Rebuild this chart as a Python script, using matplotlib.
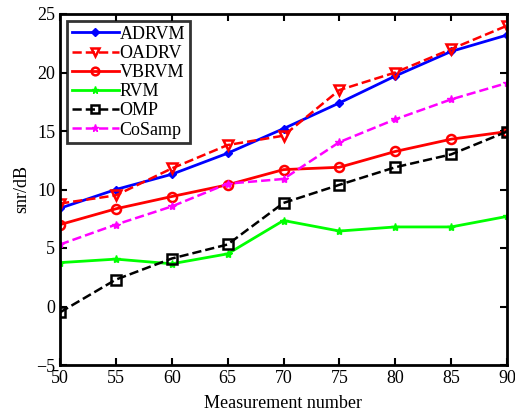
import matplotlib
matplotlib.use("Agg")
import matplotlib.pyplot as plt

plt.rcParams["font.family"] = ["Liberation Serif", "DejaVu Serif"]

measurements = [50, 55, 60, 65, 70, 75, 80, 85, 90]
adrvm = [8.4, 10.0, 11.3, 13.1, 15.2, 17.4, 19.7, 21.8, 23.2]
oadrv = [8.8, 9.5, 11.8, 13.8, 14.6, 18.5, 20.0, 22.0, 24.0]
vbrvm = [7.0, 8.35, 9.4, 10.4, 11.7, 11.9, 13.25, 14.3, 14.95]
rvm = [3.75, 4.05, 3.65, 4.5, 7.35, 6.45, 6.8, 6.8, 7.7]
omp = [-0.5, 2.3, 4.1, 5.3, 8.85, 10.4, 11.9, 13.0, 14.95]
cosamp = [5.3, 7.0, 8.55, 10.5, 10.9, 14.05, 16.0, 17.7, 19.1]

fig = plt.figure(figsize=(5.15, 4.18), dpi=100)
ax = fig.add_axes([60 / 515, 1 - 365 / 418, 447 / 515, 351 / 418])

ax.plot(measurements, adrvm, "-", color="#0000ff", lw=2, marker="D", ms=4.5,
        label="ADRVM")
ax.plot(measurements, oadrv, "--", color="#ff0000", lw=1.8, marker="v", ms=6.5,
        mfc="none", mew=1.8, label="OADRV")
ax.plot(measurements, vbrvm, "-", color="#ff0000", lw=2, marker="o", ms=6.5,
        mfc="none", mew=1.8, label="VBRVM")
ax.plot(measurements, rvm, "-", color="#00ff00", lw=2, marker="*", ms=6,
        label="RVM")
ax.plot(measurements, omp, "--", color="black", lw=1.8, marker="s", ms=6.5,
        mfc="none", mew=1.8, label="OMP")
ax.plot(measurements, cosamp, "--", color="#ff00ff", lw=1.8, marker="*", ms=6,
        label="CoSamp")

ax.set_xlim(50, 90)
ax.set_ylim(-5, 25)
ax.set_xticks(measurements)
ax.set_yticks(range(-5, 26, 5))
ax.tick_params(direction="in", length=5, width=1.5, labelsize=13,
               top=True, right=True)
for side in ax.spines.values():
    side.set_linewidth(2)

ax.set_xlabel("Measurement number", fontsize=13, labelpad=6)
ax.set_ylabel("snr/dB", fontsize=13)

leg = ax.legend(loc="upper left", fontsize=13, frameon=True, fancybox=False,
                edgecolor="black", handlelength=2.6, handletextpad=0.05,
                labelspacing=0.12, borderpad=0.25, borderaxespad=0.4,
                markerscale=0.85)
leg.get_frame().set_linewidth(2)

fig.savefig("out.png", dpi=100)
